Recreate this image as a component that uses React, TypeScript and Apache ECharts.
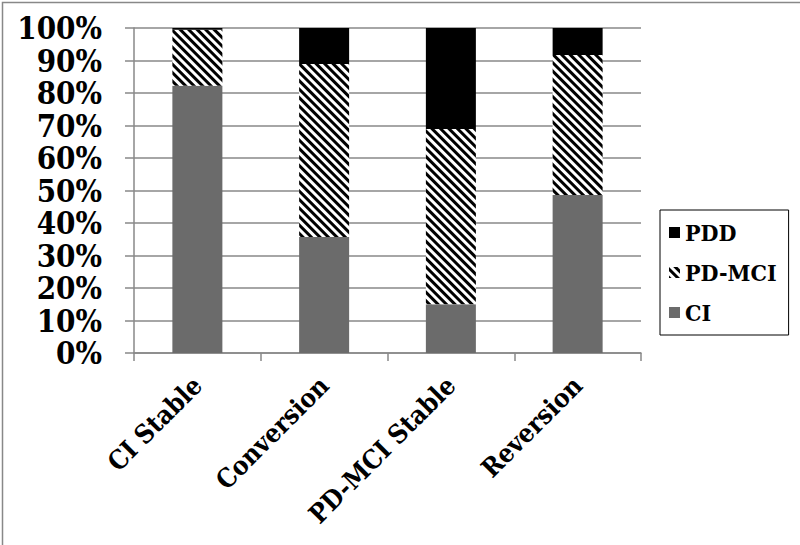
import React, { useEffect, useRef } from "react";
import * as echarts from "echarts";

const categories = ["CI Stable", "Conversion", "PD-MCI Stable", "Reversion"];
const ciValues = [82.2, 35.7, 15.0, 48.6];
const pdmciValues = [17.3, 53.2, 53.9, 43.1];
const pddValues = [0.5, 11.1, 31.1, 8.3];
const yTicks = { min: 0, max: 100, interval: 10 };

const FONT = "'DejaVu Serif Condensed', 'DejaVu Serif', serif";

export default function App() {
  const ref = useRef<HTMLDivElement>(null);
  useEffect(() => {
    document.body.style.margin = "0";
    const chart = echarts.init(ref.current!, null, { renderer: "svg" });
    const hatch = {
      symbol: "rect",
      symbolSize: 1,
      color: "#000",
      dashArrayX: [1, 0],
      dashArrayY: [3, 3],
      rotation: Math.PI / 4,
    };
    chart.setOption({
      animation: false,
      backgroundColor: "#fff",
      grid: { left: 134, right: 159, top: 28, bottom: 192 },
      legend: {
        orient: "vertical",
        left: 660,
        top: 210,
        data: ["PDD", "PD-MCI", "CI"],
        icon: "rect",
        borderColor: "#000",
        borderWidth: 1,
        padding: [11, 12, 11, 9],
        itemGap: 17,
        itemWidth: 11,
        itemHeight: 11,
        textStyle: { fontFamily: FONT, fontWeight: "bold", fontSize: 23, color: "#000" },
      },
      xAxis: {
        type: "category",
        data: categories,
        axisLine: { lineStyle: { color: "#888", width: 1.5 } },
        axisTick: { show: true, length: 8, lineStyle: { color: "#888", width: 1.5 } },
        axisLabel: {
          rotate: 45,
          margin: 28,
          interval: 0,
          fontFamily: FONT,
          fontWeight: "bold",
          fontSize: 26,
          color: "#000",
        },
      },
      yAxis: {
        type: "value",
        min: yTicks.min,
        max: yTicks.max,
        interval: yTicks.interval,
        axisLine: { show: true, lineStyle: { color: "#888", width: 1.5 } },
        axisTick: { show: true, length: 9, lineStyle: { color: "#888", width: 1.5 } },
        splitLine: { lineStyle: { color: "#888", width: 1.5 } },
        axisLabel: {
          formatter: "{value}%",
          margin: 32,
          fontFamily: FONT,
          fontWeight: "bold",
          fontSize: 31,
          color: "#000",
        },
      },
      series: [
        {
          name: "CI",
          type: "bar",
          stack: "s",
          barWidth: 50,
          data: ciValues,
          itemStyle: { color: "#6b6b6b" },
        },
        {
          name: "PD-MCI",
          type: "bar",
          stack: "s",
          barWidth: 50,
          data: pdmciValues,
          itemStyle: { color: "#fff", decal: hatch },
        },
        {
          name: "PDD",
          type: "bar",
          stack: "s",
          barWidth: 50,
          data: pddValues,
          itemStyle: { color: "#000" },
        },
      ],
      graphic: [
        {
          type: "rect",
          left: 0,
          top: 0,
          shape: { width: 799, height: 544 },
          style: { fill: "none", stroke: "#888", lineWidth: 1.5 },
          silent: true,
        },
      ],
    });
    return () => chart.dispose();
  }, []);
  return <div ref={ref} style={{ width: 800, height: 545 }} />;
}
